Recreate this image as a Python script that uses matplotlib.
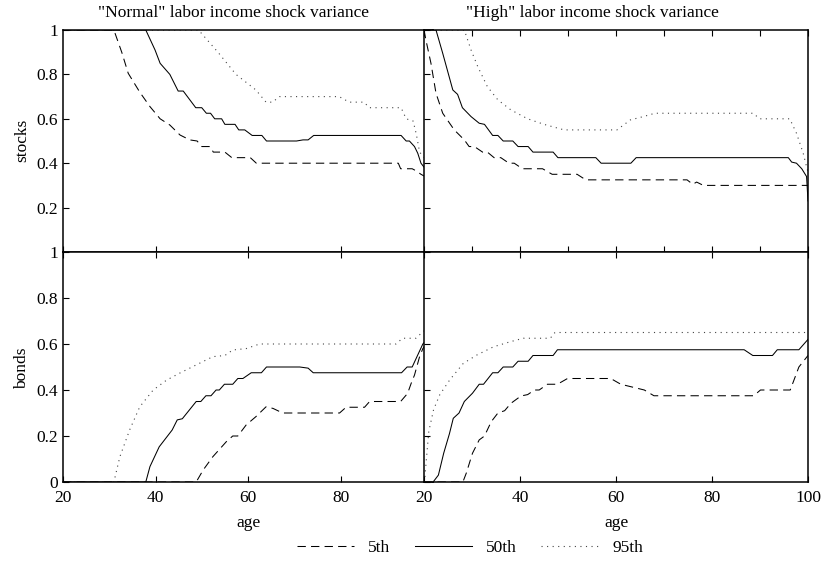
import matplotlib
matplotlib.use('Agg')
import matplotlib.pyplot as plt

plt.rcParams['font.family'] = ['Liberation Serif', 'DejaVu Serif']

# percentiles of portfolio shares over age
# "normal" variance, stocks
normal_stocks_age_5 = [20, 31.0, 32.7, 34.1, 36.6, 38.8, 41.0, 43.1, 45.3, 47.4, 49.0, 50.0, 51.8, 52.5,
                       55.0, 56.5, 60.5, 61.8, 92.5, 93.0, 95.5, 96.4, 97.4, 100]
normal_stocks_5 = [1, 1, 0.90, 0.805, 0.72, 0.655, 0.60, 0.572, 0.527, 0.505, 0.50, 0.475, 0.475, 0.45,
                   0.45, 0.425, 0.425, 0.40, 0.40, 0.375, 0.375, 0.365, 0.35, 0.32]
normal_stocks_age_50 = [20, 37.9, 39.9, 41.0, 43.1, 44.9, 46.0, 48.7, 50.0, 51.0, 51.9, 52.8, 54.3, 55.0,
                        57.2, 58.0, 59.3, 60.9, 63.0, 64.0, 70.5, 71.9, 73.0, 74.2, 93.1, 94.2, 94.9,
                        96.0, 96.7, 97.4, 100]
normal_stocks_50 = [1, 1, 0.91, 0.85, 0.80, 0.725, 0.725, 0.65, 0.65, 0.625, 0.625, 0.60, 0.60, 0.575,
                    0.575, 0.55, 0.55, 0.525, 0.525, 0.50, 0.50, 0.505, 0.505, 0.525, 0.525, 0.50, 0.50,
                    0.475, 0.445, 0.40, 0.33]
normal_stocks_age_95 = [20, 49.3, 53.5, 57.4, 61.7, 63.9, 65.3, 66.8, 79.7, 81.9, 85.1, 86.2, 93.1, 94.2,
                        95.7, 96.4, 97.1, 100]
normal_stocks_95 = [1, 1, 0.90, 0.80, 0.73, 0.675, 0.675, 0.70, 0.70, 0.675, 0.675, 0.65, 0.65, 0.60,
                    0.59, 0.53, 0.45, 0.38]

# "high" variance, stocks
high_stocks_age_5 = [20, 20.4, 21.45, 22.5, 23.9, 26.3, 28.4, 29.4, 30.5, 32.2, 33.2, 34.6, 36.0, 37.7,
                     38.8, 40.5, 44.7, 46.7, 51.9, 53.7, 74.8, 76.0, 76.8, 78.2, 100]
high_stocks_5 = [1.0, 0.955, 0.85, 0.715, 0.625, 0.55, 0.505, 0.475, 0.475, 0.45, 0.45, 0.425, 0.425, 0.40,
                 0.40, 0.375, 0.375, 0.35, 0.35, 0.325, 0.325, 0.305, 0.315, 0.30, 0.30]
high_stocks_age_50 = [20, 22.5, 23.9, 26.0, 27.0, 28.0, 29.8, 31.5, 32.6, 34.3, 35.4, 36.5, 38.5, 39.6,
                      41.7, 42.7, 46.9, 47.9, 55.8, 56.9, 63.1, 64.2, 95.9, 96.6, 97.6, 98.7, 99.7, 100]
high_stocks_50 = [1, 1, 0.895, 0.73, 0.71, 0.65, 0.61, 0.58, 0.575, 0.525, 0.525, 0.50, 0.50, 0.475,
                  0.475, 0.45, 0.45, 0.425, 0.425, 0.40, 0.40, 0.425, 0.425, 0.405, 0.40, 0.375, 0.34, 0.23]
high_stocks_age_95 = [20, 28.4, 29.8, 31.2, 33.2, 35.4, 38.1, 41.6, 45.0, 49.2, 60.2, 63.0, 65.7, 68.1,
                      88.6, 89.9, 96.2, 97.6, 99.0, 99.7, 100]
high_stocks_95 = [1, 1, 0.91, 0.835, 0.745, 0.685, 0.64, 0.60, 0.575, 0.55, 0.55, 0.595, 0.61, 0.625,
                  0.625, 0.60, 0.60, 0.535, 0.445, 0.384, 0.36]

# "normal" variance, bonds
normal_bonds_age_5 = [20, 48.8, 50.3, 52.4, 55.3, 56.7, 57.8, 59.6, 61.7, 63.9, 65.4, 67.5, 79.8, 81.2,
                      85.2, 86.3, 93.0, 94.5, 95.3, 96.0, 97.1, 97.8, 100]
normal_bonds_5 = [0, 0, 0.052, 0.11, 0.175, 0.20, 0.20, 0.248, 0.284, 0.327, 0.32, 0.30, 0.30, 0.325,
                  0.325, 0.35, 0.35, 0.385, 0.43, 0.465, 0.545, 0.58, 0.64]
normal_bonds_age_50 = [20, 37.9, 38.8, 40.8, 43.6, 44.7, 45.8, 46.8, 48.8, 49.8, 50.9, 52.0, 53.1, 53.8,
                       54.9, 56.7, 57.8, 58.9, 60.7, 62.9, 64.0, 71.2, 73.0, 74.1, 93.2, 94.4, 95.5,
                       97.8, 100]
normal_bonds_50 = [0, 0, 0.067, 0.153, 0.226, 0.27, 0.275, 0.30, 0.35, 0.35, 0.375, 0.375, 0.40, 0.40,
                   0.425, 0.425, 0.45, 0.45, 0.475, 0.475, 0.50, 0.50, 0.495, 0.475, 0.475, 0.50, 0.50,
                   0.60, 0.65]
normal_bonds_age_95 = [20, 31.0, 32.3, 34.4, 36.6, 39.5, 42.4, 45.2, 48.8, 52.4, 55.0, 56.7, 59.6, 62.5,
                       92.0, 93.4, 96.3, 97.8, 100]
normal_bonds_95 = [0, 0, 0.11, 0.226, 0.327, 0.40, 0.443, 0.473, 0.509, 0.545, 0.55, 0.574, 0.58, 0.60,
                   0.60, 0.625, 0.625, 0.653, 0.68]

# "high" variance, bonds
high_bonds_age_5 = [20, 28.1, 28.8, 30.1, 31.5, 32.6, 34.0, 35.4, 36.8, 38.1, 40.2, 41.6, 43.0, 44.0,
                    45.7, 47.8, 49.9, 58.9, 61.0, 65.9, 67.9, 88.7, 90.1, 96.3, 98.1, 100]
high_bonds_5 = [0, 0, 0.038, 0.125, 0.183, 0.20, 0.262, 0.30, 0.31, 0.342, 0.374, 0.38, 0.40, 0.40,
                0.425, 0.425, 0.45, 0.45, 0.425, 0.40, 0.375, 0.375, 0.40, 0.40, 0.50, 0.55]
high_bonds_age_50 = [20, 21.9, 23.0, 24.1, 25.3, 26.1, 27.3, 28.4, 30.1, 31.5, 32.4, 34.3, 35.4, 36.5,
                     38.5, 39.6, 41.7, 42.7, 46.9, 47.8, 86.7, 88.5, 92.6, 93.6, 98.1, 100]
high_bonds_50 = [0, 0, 0.03, 0.125, 0.21, 0.277, 0.30, 0.35, 0.386, 0.425, 0.425, 0.475, 0.475, 0.50,
                 0.50, 0.525, 0.525, 0.55, 0.55, 0.575, 0.575, 0.55, 0.55, 0.575, 0.575, 0.62]
high_bonds_age_95 = [20, 20.1, 20.5, 21.0, 22.0, 23.3, 25.4, 28.2, 31.0, 34.5, 38.0, 40.7, 46.3, 47.3, 100]
high_bonds_95 = [0, 0, 0.10, 0.22, 0.315, 0.38, 0.445, 0.516, 0.552, 0.588, 0.61, 0.625, 0.625, 0.65, 0.65]

titles = ['"Normal" labor income shock variance', '"High" labor income shock variance']
pct_labels = ['5th', '50th', '95th']
ytick_vals = [0, 0.2, 0.4, 0.6, 0.8, 1]
ytick_labels = ['0', '0.2', '0.4', '0.6', '0.8', '1']

W, H = 822, 562
FS = 12.5

def box(x0, y0, x1, y1):
    # pixel box (top-left origin) -> figure fraction rect
    return [x0 / W, 1 - y1 / H, (x1 - x0) / W, (y1 - y0) / H]

fig = plt.figure(figsize=(W / 100, H / 100), dpi=100)

# left panels are a bit narrower and tucked under the right ones
ax_tl = fig.add_axes(box(63, 30, 433, 252))
ax_bl = fig.add_axes(box(63, 252, 433, 482))
ax_tr = fig.add_axes(box(424, 30, 808, 252))
ax_br = fig.add_axes(box(424, 252, 808, 482))

styles = [dict(ls=(0, (8, 5)), lw=0.75, color='black'),
          dict(ls='-', lw=0.75, color='black'),
          dict(ls=(0, (1, 4)), lw=0.8, color='#444444')]

panels = [
    (ax_tl, [(normal_stocks_age_5, normal_stocks_5), (normal_stocks_age_50, normal_stocks_50),
             (normal_stocks_age_95, normal_stocks_95)]),
    (ax_bl, [(normal_bonds_age_5, normal_bonds_5), (normal_bonds_age_50, normal_bonds_50),
             (normal_bonds_age_95, normal_bonds_95)]),
    (ax_tr, [(high_stocks_age_5, high_stocks_5), (high_stocks_age_50, high_stocks_50),
             (high_stocks_age_95, high_stocks_95)]),
    (ax_br, [(high_bonds_age_5, high_bonds_5), (high_bonds_age_50, high_bonds_50),
             (high_bonds_age_95, high_bonds_95)]),
]

handles = []
for ax, series in panels:
    ax.set_facecolor('white')
    for (x, y), st, lab in zip(series, styles, pct_labels):
        ln, = ax.plot(x, y, label=lab, **st)
        if ax is ax_bl:
            handles.append(ln)
    ax.set_xlim(20, 100)
    ax.set_ylim(0, 1)
    for sp in ax.spines.values():
        sp.set_linewidth(1.1)
    ax.tick_params(direction='in', length=4, width=0.8, labelsize=FS, right=False)
    ax.tick_params(axis='x', pad=6)

# left column: y labels, x ticks every 20
for ax in (ax_tl, ax_bl):
    ax.set_xticks([20, 40, 60, 80])
ax_tl.set_yticks(ytick_vals[1:])
ax_tl.set_yticklabels(ytick_labels[1:])
ax_bl.set_yticks(ytick_vals)
ax_bl.set_yticklabels(ytick_labels)
ax_tl.tick_params(labelbottom=False)
ax_bl.tick_params(top=True)

# right column: no y labels
for ax in (ax_tr, ax_br):
    ax.set_yticks(ytick_vals)
    ax.tick_params(labelleft=False)
ax_tr.set_xticks(range(20, 101, 10))
ax_tr.tick_params(top=True, labelbottom=False)
ax_br.set_xticks([20, 40, 60, 80, 100])
ax_br.tick_params(top=True)

ax_bl.set_xlabel('age', fontsize=FS, labelpad=6)
ax_br.set_xlabel('age', fontsize=FS, labelpad=6)

fig.text(233 / W, 1 - 13 / H, titles[0], ha='center', va='center', fontsize=FS)
fig.text(592 / W, 1 - 13 / H, titles[1], ha='center', va='center', fontsize=FS)
fig.text(22 / W, 1 - 140 / H, 'stocks', rotation=90, ha='center', va='center', fontsize=FS)
fig.text(22 / W, 1 - 368 / H, 'bonds', rotation=90, ha='center', va='center', fontsize=FS)

fig.legend(handles, pct_labels, loc='center', bbox_to_anchor=(470 / W, 1 - 548 / H), ncol=3,
           frameon=False, fontsize=FS, handlelength=3.3, handletextpad=0.8, columnspacing=1.4)

fig.savefig('out.png', dpi=100)
